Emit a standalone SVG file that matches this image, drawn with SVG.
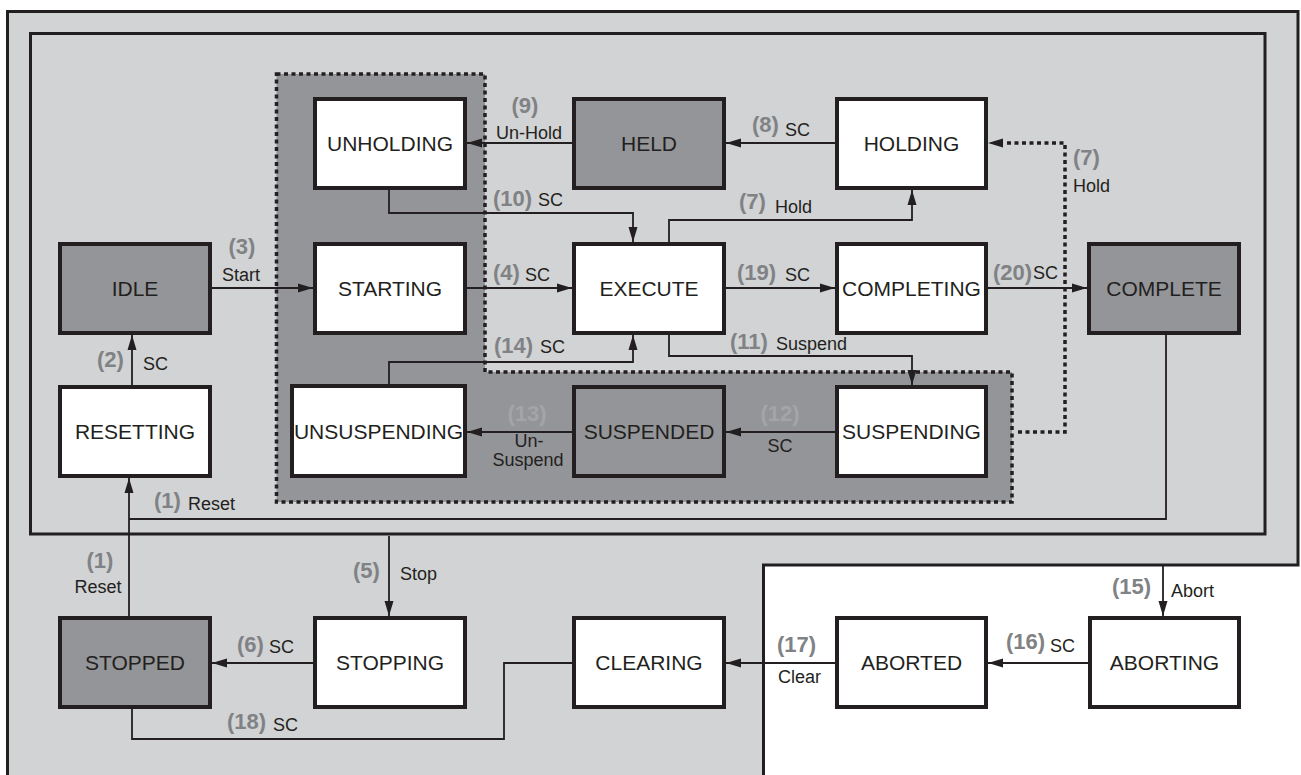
<svg xmlns="http://www.w3.org/2000/svg" width="1301" height="775" viewBox="0 0 1301 775">
<defs>
<style>
.frame{fill:none;stroke:#231f20;stroke-width:3}
.node{stroke:#231f20;stroke-width:4}
.w{fill:#ffffff}
.d{fill:#939598}
.nt{font-family:"Liberation Sans",Arial,sans-serif;font-size:21px;fill:#231f20;text-anchor:middle}
.c{fill:none;stroke:#231f20;stroke-width:1.8}
.dot{fill:none;stroke:#231f20;stroke-width:3.5;stroke-dasharray:4 3.5}
.n{font-family:"Liberation Sans",Arial,sans-serif;font-size:22px;font-weight:bold;fill:#808285}
.nl{font-family:"Liberation Sans",Arial,sans-serif;font-size:22px;font-weight:bold;fill:#a3a5a8}
.l{font-family:"Liberation Sans",Arial,sans-serif;font-size:18px;fill:#231f20}
.m{text-anchor:middle}
</style>
<marker id="ah" markerUnits="userSpaceOnUse" markerWidth="16" markerHeight="10" refX="15" refY="5" orient="auto">
<path d="M0,0.5 L15,5 L0,9.5 z" fill="#231f20"/>
</marker>
</defs>
<rect x="0" y="0" width="1301" height="775" fill="#ffffff"/>
<g id="frames">
<path d="M7.5,775 V11.5 H1298 V565 H763.5 V775 Z" fill="#d1d3d4" stroke="none"/>
<path d="M7.5,775 V11.5 H1298 V565 H763.5 V775" class="frame"/>
<rect x="30.5" y="33.5" width="1234.5" height="500.5" class="frame"/>
<path d="M276.5,74 H485 V372 H1012 V502 H276.5 Z" fill="#939598" stroke="none"/>
<path d="M276.5,74 H485 V372 H1012 V502 H276.5 Z" class="dot"/>
</g>
<g id="connectors">
<path class="c" d="M1166,334 V519 H129"/>
<path class="c" d="M129,616 V478" marker-end="url(#ah)"/>
<path class="c" d="M132,385 V335" marker-end="url(#ah)"/>
<path class="c" d="M212,288 H313" marker-end="url(#ah)"/>
<path class="c" d="M467,288 H572" marker-end="url(#ah)"/>
<path class="c" d="M726,288 H835" marker-end="url(#ah)"/>
<path class="c" d="M988,288 H1087" marker-end="url(#ah)"/>
<path class="c" d="M669,242 V220 H912 V190" marker-end="url(#ah)"/>
<path class="dot" d="M1018,432 H1065 V143 H1004"/>
<path d="M988,143 L1003,138.5 L1003,147.5 z" fill="#231f20"/>
<path class="c" d="M835,143 H726" marker-end="url(#ah)"/>
<path class="c" d="M572,143 H467" marker-end="url(#ah)"/>
<path class="c" d="M389,190 V213 H633 V242" marker-end="url(#ah)"/>
<path class="c" d="M669,335 V356 H912 V385" marker-end="url(#ah)"/>
<path class="c" d="M835,432 H726" marker-end="url(#ah)"/>
<path class="c" d="M572,432 H467" marker-end="url(#ah)"/>
<path class="c" d="M389,384 V362 H633 V335" marker-end="url(#ah)"/>
<path class="c" d="M389,536 V616" marker-end="url(#ah)"/>
<path class="c" d="M313,663 H212" marker-end="url(#ah)"/>
<path class="c" d="M1163,565 V616" marker-end="url(#ah)"/>
<path class="c" d="M1088,663 H988" marker-end="url(#ah)"/>
<path class="c" d="M835,663 H726" marker-end="url(#ah)"/>
<path class="c" d="M572,663 H504 V739 H132 V709"/>
</g>
<g id="labels">
<text class="n" x="154" y="508">(1)</text><text class="l" x="188" y="510">Reset</text>
<text class="n m" x="100" y="568">(1)</text><text class="l m" x="98" y="593">Reset</text>
<text class="n" x="97" y="367">(2)</text><text class="l" x="143" y="370">SC</text>
<text class="n m" x="242" y="254">(3)</text><text class="l m" x="241" y="281">Start</text>
<text class="n" x="493" y="280">(4)</text><text class="l" x="525" y="281">SC</text>
<text class="n" x="353" y="578">(5)</text><text class="l" x="400" y="580">Stop</text>
<text class="n" x="237" y="652">(6)</text><text class="l" x="269" y="653">SC</text>
<text class="n" x="739" y="209">(7)</text><text class="l" x="775" y="213">Hold</text>
<text class="n" x="1073" y="165">(7)</text><text class="l" x="1073" y="192">Hold</text>
<text class="n" x="752" y="132">(8)</text><text class="l" x="785" y="136">SC</text>
<text class="n m" x="525" y="113">(9)</text><text class="l m" x="529" y="139">Un-Hold</text>
<text class="n" x="493" y="206">(10)</text><text class="l" x="538" y="206">SC</text>
<text class="n" x="730" y="349">(11)</text><text class="l" x="776" y="350">Suspend</text>
<text class="nl m" x="780" y="421">(12)</text><text class="l m" x="780" y="452">SC</text>
<text class="nl m" x="527" y="421">(13)</text><text class="l m" x="529" y="447">Un-</text><text class="l m" x="528" y="466">Suspend</text>
<text class="n" x="494" y="353">(14)</text><text class="l" x="540" y="353">SC</text>
<text class="n" x="1112" y="594">(15)</text><text class="l" x="1171" y="597">Abort</text>
<text class="n" x="1006" y="649">(16)</text><text class="l" x="1050" y="652">SC</text>
<text class="n" x="777" y="652">(17)</text><text class="l" x="778" y="683">Clear</text>
<text class="n" x="227" y="729">(18)</text><text class="l" x="273" y="731">SC</text>
<text class="n" x="737" y="280">(19)</text><text class="l" x="785" y="281">SC</text>
<text class="n" x="993" y="280">(20)</text><text class="l" x="1033" y="279">SC</text>
</g>
<g id="unholding"><rect class="node w" x="315" y="99" width="150" height="89"/><text class="nt" x="390" y="151">UNHOLDING</text></g>
<g id="held"><rect class="node d" x="574" y="99" width="150" height="89"/><text class="nt" x="649" y="151">HELD</text></g>
<g id="holding"><rect class="node w" x="837" y="99" width="149" height="89"/><text class="nt" x="911.5" y="151">HOLDING</text></g>
<g id="idle"><rect class="node d" x="60" y="244" width="150" height="89"/><text class="nt" x="135" y="296">IDLE</text></g>
<g id="starting"><rect class="node w" x="315" y="244" width="150" height="89"/><text class="nt" x="390" y="296">STARTING</text></g>
<g id="execute"><rect class="node w" x="574" y="244" width="150" height="89"/><text class="nt" x="649" y="296">EXECUTE</text></g>
<g id="completing"><rect class="node w" x="837" y="244" width="149" height="89"/><text class="nt" x="911.5" y="296">COMPLETING</text></g>
<g id="complete"><rect class="node d" x="1089" y="244" width="150" height="89"/><text class="nt" x="1164" y="296">COMPLETE</text></g>
<g id="resetting"><rect class="node w" x="60" y="387" width="150" height="89"/><text class="nt" x="135" y="439">RESETTING</text></g>
<g id="unsuspending"><rect class="node w" x="292" y="386" width="173" height="90"/><text class="nt" x="378.5" y="439">UNSUSPENDING</text></g>
<g id="suspended"><rect class="node d" x="574" y="387" width="150" height="89"/><text class="nt" x="649" y="439">SUSPENDED</text></g>
<g id="suspending"><rect class="node w" x="837" y="387" width="149" height="89"/><text class="nt" x="911.5" y="439">SUSPENDING</text></g>
<g id="stopped"><rect class="node d" x="60" y="618" width="150" height="89"/><text class="nt" x="135" y="670">STOPPED</text></g>
<g id="stopping"><rect class="node w" x="315" y="618" width="150" height="89"/><text class="nt" x="390" y="670">STOPPING</text></g>
<g id="clearing"><rect class="node w" x="574" y="618" width="150" height="89"/><text class="nt" x="649" y="670">CLEARING</text></g>
<g id="aborted"><rect class="node w" x="837" y="618" width="149" height="89"/><text class="nt" x="911.5" y="670">ABORTED</text></g>
<g id="aborting"><rect class="node w" x="1090" y="618" width="149" height="89"/><text class="nt" x="1164.5" y="670">ABORTING</text></g>
</svg>
